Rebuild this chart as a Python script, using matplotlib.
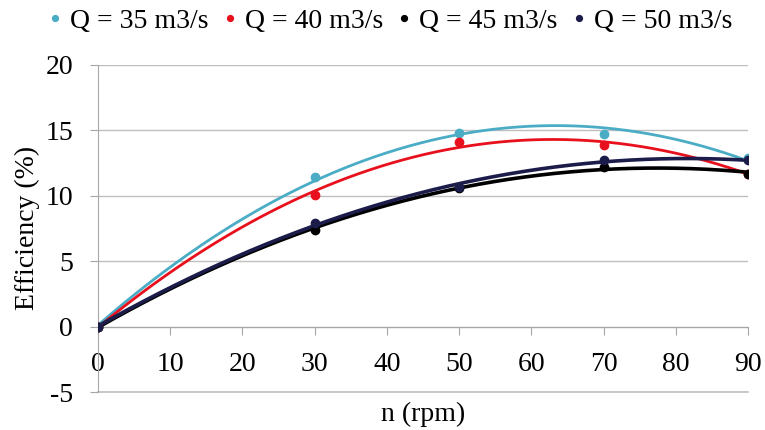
import numpy as np
import matplotlib
matplotlib.use("Agg")
import matplotlib.pyplot as plt

plt.rcParams['font.family'] = ['Liberation Serif', 'DejaVu Serif']
plt.rcParams['axes.unicode_minus'] = False

n_rpm = [0, 30, 50, 70, 90]
labels = ["Q = 35 m3/s", "Q = 40 m3/s", "Q = 45 m3/s", "Q = 50 m3/s"]
eff_35 = [0, 11.4, 14.8, 14.7, 12.9]
eff_40 = [0, 10.1, 14.1, 13.9, 11.7]
eff_45 = [0, 7.4, 10.6, 12.2, 11.7]
eff_50 = [0, 7.9, 10.7, 12.7, 12.7]
series = [eff_35, eff_40, eff_45, eff_50]
colors = ["#4BACC6", "#E8101C", "#000000", "#1C1C4A"]
lws = [2.0, 2.0, 2.6, 2.6]

fig = plt.figure(figsize=(7.65, 4.3), dpi=100)
ax = fig.add_axes([0.128, 0.088, 0.850, 0.761])

xs = np.linspace(0, 90, 300)
for vals, c, lw, lab in zip(series, colors, lws, labels):
    coef = np.polyfit(n_rpm, vals, 2)
    ax.plot(xs, np.polyval(coef, xs), color=c, lw=lw, zorder=3)
    ax.plot(n_rpm, vals, 'o', color=c, ms=6, zorder=4, label=lab)

ax.set_xlim(0, 90)
ax.set_ylim(-5, 20)
ax.set_xticks(range(0, 91, 10))
ax.set_yticks([-5, 0, 5, 10, 15, 20])
ax.grid(axis='y', color='#BFBFBF', lw=1)
ax.axhline(-5, color='#BFBFBF', lw=1.2, clip_on=False, zorder=0)
ax.set_axisbelow(True)
ax.spines['bottom'].set_position(('data', 0))
ax.spines['bottom'].set_color('#A6A6A6')
ax.spines['left'].set_color('#A6A6A6')
ax.spines['top'].set_visible(False)
ax.spines['right'].set_visible(False)
ax.tick_params(axis='x', direction='out', length=6, color='#A6A6A6', labelsize=20, pad=12)
ax.tick_params(axis='y', direction='out', length=6, color='#A6A6A6', labelsize=20, pad=12)

fig.text(0.5 * (0.128 + 0.978), 1 - 414 / 430, "n (rpm)", fontsize=20, ha='center', va='center')
fig.text(27 / 765, 1 - 228 / 430, "Efficiency (%)", fontsize=20, ha='center', va='center',
         rotation=90)

leg = fig.legend(loc='center', bbox_to_anchor=(391 / 765, 1 - 21 / 430), ncol=4, frameon=False,
                 fontsize=20, handletextpad=0.35, columnspacing=0.55, handlelength=0.4,
                 markerscale=0.7, borderaxespad=0, borderpad=0)

fig.savefig("out.png", dpi=100)
